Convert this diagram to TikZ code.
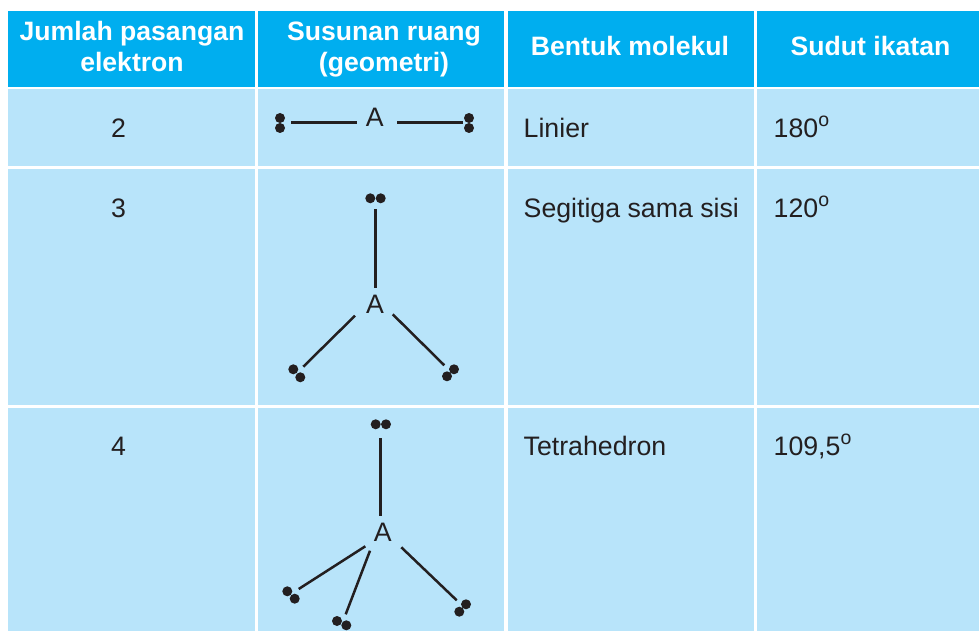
\documentclass[tikz,border=0pt]{standalone}
\usepackage{fontspec}
\setmainfont{Liberation Sans}
\definecolor{headblue}{HTML}{00AEEF}
\definecolor{cellblue}{HTML}{B8E4FA}
\definecolor{inkdark}{HTML}{231F20}
\tikzset{
  headcell/.style={fill=headblue},
  bodycell/.style={fill=cellblue},
  headtext/.style={anchor=base,inner sep=0pt,text=white,align=center,font=\fontsize{26.6}{31.6}\selectfont\bfseries},
  bodytext/.style={anchor=base,inner sep=0pt,text=inkdark,font=\fontsize{26.7}{31}\selectfont},
  lefttext/.style={bodytext,anchor=base west},
  atomtext/.style={bodytext},
  dot/.style={circle,fill=inkdark,inner sep=0pt,minimum size=10pt},
  bond/.style={draw=inkdark,line width=2.5pt}
}
\newcommand{\degmark}{\raisebox{11pt}{\fontsize{19.5}{19.5}\selectfont o}}
\begin{document}
\begin{tikzpicture}[x=1pt,y=-1pt]
\useasboundingbox (0,0) rectangle (979,631);
% cells
\fill[headcell] (8,11.5) rectangle (255,87);
\fill[headcell] (258,11.5) rectangle (504,87);
\fill[headcell] (507.5,11.5) rectangle (754,87);
\fill[headcell] (757,11.5) rectangle (979,87);
\foreach \t/\b in {89.5/166,169/405,408/631}{
  \fill[bodycell] (8,\t) rectangle (255,\b);
  \fill[bodycell] (258,\t) rectangle (504,\b);
  \fill[bodycell] (507.5,\t) rectangle (754,\b);
  \fill[bodycell] (757,\t) rectangle (979,\b);
}
% header
\node[headtext] (h1a) at (132,40.5) {Jumlah pasangan};
\node[headtext] (h1b) at (132,72) {elektron};
\node[headtext] (h2a) at (384,40.5) {Susunan ruang};
\node[headtext] (h2b) at (384,72) {(geometri)};
\node[headtext] (h3) at (630,55.5) {Bentuk molekul};
\node[headtext] (h4) at (870.5,55.5) {Sudut ikatan};
% text columns
\node[bodytext] (n2) at (118.5,138) {2};
\node[bodytext] (n3) at (118.5,217) {3};
\node[bodytext] (n4) at (118.5,455) {4};
\node[lefttext] (s1) at (523.5,138) {Linier};
\node[lefttext] (s2) at (523.5,217) {Segitiga sama sisi};
\node[lefttext] (s3) at (523.5,455) {Tetrahedron};
\node[lefttext] (a1) at (773.5,138) {180\degmark};
\node[lefttext] (a2) at (773.5,217) {120\degmark};
\node[lefttext] (a3) at (773.5,455) {109,5\degmark};
% row 1
\node[atomtext] (A1) at (374.7,126.7) {A};
\node[dot] (d1a) at (280,118) {};
\node[dot] (d1b) at (280,128) {};
\node[dot] (d1c) at (469,118) {};
\node[dot] (d1d) at (469,128) {};
\coordinate (b1as) at (291,122.7);
\coordinate (b1ae) at (357,122.7);
\coordinate (b1bs) at (397,122.7);
\coordinate (b1be) at (463,122.7);
\draw[bond] (b1as) -- (b1ae);
\draw[bond] (b1bs) -- (b1be);
% row 2
\node[atomtext] (A2) at (375,313) {A};
\node[dot] (d2a) at (370.3,198.3) {};
\node[dot] (d2b) at (380.7,198.3) {};
\node[dot] (d2c) at (293.3,369.3) {};
\node[dot] (d2d) at (300.3,377.3) {};
\node[dot] (d2e) at (454,369.3) {};
\node[dot] (d2f) at (447,376.3) {};
\coordinate (b2as) at (375.7,209);
\coordinate (b2ae) at (375.7,288);
\coordinate (b2bs) at (355,315.7);
\coordinate (b2be) at (303.3,366.7);
\coordinate (b2cs) at (392.7,314.3);
\coordinate (b2ce) at (444.3,365.3);
\draw[bond] (b2as) -- (b2ae);
\draw[bond] (b2bs) -- (b2be);
\draw[bond] (b2cs) -- (b2ce);
% row 3
\node[atomtext] (A3) at (382.7,541) {A};
\node[dot] (d3a) at (375.7,424.3) {};
\node[dot] (d3b) at (386,424.3) {};
\node[dot] (d3c) at (287.3,591.3) {};
\node[dot] (d3d) at (294.7,598.7) {};
\node[dot] (d3e) at (337,621) {};
\node[dot] (d3f) at (346.3,625.3) {};
\node[dot] (d3g) at (466,604.3) {};
\node[dot] (d3h) at (459.3,611.7) {};
\coordinate (b3as) at (380.3,438.3);
\coordinate (b3ae) at (380.3,516.3);
\coordinate (b3bs) at (365.3,546.3);
\coordinate (b3be) at (298.7,589);
\coordinate (b3cs) at (370,550.7);
\coordinate (b3ce) at (345.7,614.3);
\coordinate (b3ds) at (401.3,547.3);
\coordinate (b3de) at (456.7,600.3);
\draw[bond] (b3as) -- (b3ae);
\draw[bond] (b3bs) -- (b3be);
\draw[bond] (b3cs) -- (b3ce);
\draw[bond] (b3ds) -- (b3de);
\end{tikzpicture}
\end{document}
